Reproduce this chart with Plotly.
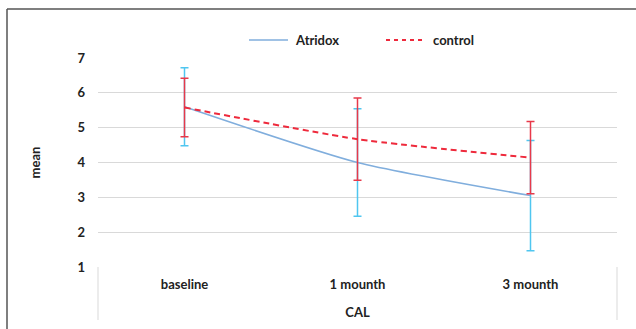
import plotly.graph_objects as go

categories = ["baseline", "1 mounth", "3 mounth"]
atridox_mean = [5.6, 4.0, 3.05]
atridox_err = [1.12, 1.54, 1.58]
control_mean = [5.58, 4.67, 4.14]
control_err = [0.84, 1.18, 1.04]
y_ticks = [1, 2, 3, 4, 5, 6, 7]
series_names = ["Atridox", "control"]

W, H = 636, 329
L, R, T, B = 98, 19, 58, 62
pw, ph = W - L - R, H - T - B

def px(x):
    return (x - L) / pw

def py(y):
    return (H - B - y) / ph

FONT = "Lato, Open Sans, sans-serif"
TXT = dict(family=FONT, size=13, color="#222222", weight="bold")
A_LINE = dict(color="#80AEDD", width=1.5)
C_LINE = dict(color="#EE2A3C", width=2, dash="6px,4px")

fig = go.Figure()
fig.add_trace(go.Scatter(
    x=categories, y=atridox_mean, name=series_names[0], mode="lines",
    line=dict(**A_LINE, shape="spline", smoothing=0.6),
    error_y=dict(type="data", array=atridox_err, color="#4FC6F0", thickness=1.5, width=4),
))
fig.add_trace(go.Scatter(
    x=categories, y=control_mean, name=series_names[1], mode="lines",
    line=dict(**C_LINE, shape="spline", smoothing=0.6),
    error_y=dict(type="data", array=control_err, color="#E8394A", thickness=1.5, width=4),
))

shapes = [
    dict(type="line", xref="paper", yref="paper", x0=px(7), x1=px(7), y0=py(9), y1=py(335),
         line=dict(color="#555555", width=1.5)),
    dict(type="line", xref="paper", yref="paper", x0=px(7), x1=px(640), y0=py(9), y1=py(9),
         line=dict(color="#555555", width=1.5)),
    dict(type="line", xref="paper", yref="paper", x0=0, x1=0, y0=0, y1=py(320),
         line=dict(color="#D9D9D9", width=1)),
    dict(type="line", xref="paper", yref="paper", x0=1, x1=1, y0=0, y1=py(320),
         line=dict(color="#D9D9D9", width=1)),
    # legend keys
    dict(type="line", xref="paper", yref="paper", x0=px(249), x1=px(288), y0=py(40), y1=py(40),
         line=A_LINE),
    dict(type="line", xref="paper", yref="paper", x0=px(386), x1=px(425), y0=py(40), y1=py(40),
         line=dict(color="#EE2A3C", width=2, dash="4px,4px")),
]

annotations = [
    dict(xref="paper", yref="paper", x=px(293), y=py(40), text=series_names[0], showarrow=False,
         xanchor="left", yanchor="middle", font=TXT),
    dict(xref="paper", yref="paper", x=px(431), y=py(40), text=series_names[1], showarrow=False,
         xanchor="left", yanchor="middle", font=TXT),
]

fig.update_layout(
    width=W, height=H,
    margin=dict(l=L, r=R, t=T, b=B),
    paper_bgcolor="white", plot_bgcolor="white",
    font=TXT,
    showlegend=False,
    xaxis=dict(range=[-0.5, 2.5], showgrid=False, showline=False, ticks="", zeroline=False,
               tickfont=TXT, ticklabelstandoff=8,
               title=dict(text="CAL", font=TXT, standoff=16)),
    yaxis=dict(range=[1, 7], tickvals=y_ticks, showgrid=True, gridcolor="#D9D9D9", gridwidth=1,
               zeroline=False, showline=False, ticks="",
               tickfont=TXT, ticklabelstandoff=12,
               title=dict(text="mean", font=TXT, standoff=33)),
    shapes=shapes,
    annotations=annotations,
)

fig.write_html(
    "out.html",
    config={"displayModeBar": False},
    post_script="document.body.style.margin='0';document.body.style.padding='0';document.body.style.overflow='hidden';",
)
